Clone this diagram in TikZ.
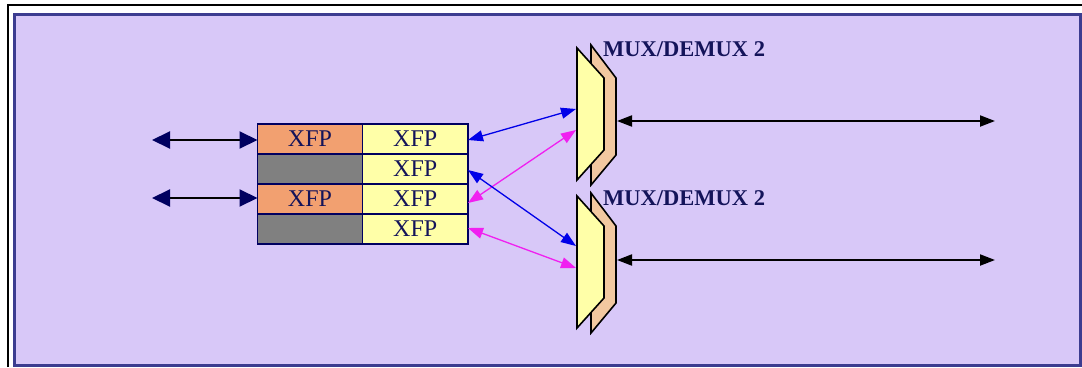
\documentclass[tikz,border=0pt]{standalone}
\usepackage{fontspec}
\setmainfont{Liberation Serif}
\usetikzlibrary{arrows.meta}
\definecolor{bgpurple}{HTML}{D8C8F8}
\definecolor{framecol}{HTML}{3C3C90}
\definecolor{cellorange}{HTML}{F2A070}
\definecolor{cellgray}{HTML}{808080}
\definecolor{cellyellow}{HTML}{FFFFA8}
\definecolor{muxback}{HTML}{F2C8A0}
\definecolor{navy}{HTML}{000060}
\definecolor{textnavy}{HTML}{14145A}
\definecolor{linkblue}{HTML}{0000E8}
\definecolor{linkmag}{HTML}{F020F0}
\tikzset{
  cell/.style={draw=navy, line width=1.6pt, minimum width=105pt, minimum height=30pt, inner sep=0pt, outer sep=0pt,
    font=\fontsize{24}{24}\selectfont, text=textnavy},
  xfpo/.style={cell, fill=cellorange},
  xfpg/.style={cell, fill=cellgray},
  xfpy/.style={cell, fill=cellyellow},
  muxfront/.style={draw=black, line width=1.6pt, fill=cellyellow, line join=miter},
  muxrear/.style={draw=black, line width=1.6pt, fill=muxback, line join=miter},
  muxlabel/.style={anchor=base west, inner sep=0pt, font=\fontsize{22.5}{22.5}\selectfont\bfseries, text=textnavy},
  clientlink/.style={draw=black, line width=2pt, {Triangle[length=18pt,width=17pt,fill=navy,color=navy]}-{Triangle[length=18pt,width=17pt,fill=navy,color=navy]}},
  linelink/.style={draw=black, line width=2pt, {Triangle[length=15pt,width=11pt]}-{Triangle[length=15pt,width=11pt]}},
  bluelink/.style={draw=linkblue, line width=1.3pt, {Triangle[length=15pt,width=11pt]}-{Triangle[length=15pt,width=11pt]}},
  maglink/.style={draw=linkmag, line width=1.3pt, {Triangle[length=15pt,width=11pt]}-{Triangle[length=15pt,width=11pt]}},
}
\begin{document}
\begin{tikzpicture}[x=1pt,y=-1pt]
\useasboundingbox (0,0) rectangle (1082,367);
% background panel
\fill[bgpurple] (14,14) rectangle (1080,365);
\draw[framecol, line width=3pt] (14,14) rectangle (1080,365);
\draw[black, line width=2.5pt] (8,367) -- (8,5) -- (1082,5);

% XFP cells
\node[xfpo] (l1) at (310,139) {XFP};
\node[xfpg] (l2) at (310,169) {};
\node[xfpo] (l3) at (310,199) {XFP};
\node[xfpg] (l4) at (310,229) {};
\node[xfpy, minimum width=105.5pt] (r1) at (415.25,139) {XFP};
\node[xfpy, minimum width=105.5pt] (r2) at (415.25,169) {XFP};
\node[xfpy, minimum width=105.5pt] (r3) at (415.25,199) {XFP};
\node[xfpy, minimum width=105.5pt] (r4) at (415.25,229) {XFP};

% MUX/DEMUX 1
\draw[muxrear] (591,45) -- (616,78) -- (616,155) -- (591,185) -- cycle;
\draw[muxfront] (577,48) -- (604,78) -- (604,150) -- (577,180) -- cycle;
\node[muxlabel] (m1label) at (603,56) {MUX/DEMUX 2};
% MUX/DEMUX 2
\draw[muxrear] (591,193) -- (616,226) -- (616,303) -- (591,333) -- cycle;
\draw[muxfront] (577,196) -- (604,226) -- (604,298) -- (577,328) -- cycle;
\node[muxlabel] (m2label) at (603,205) {MUX/DEMUX 2};

% connection points
\coordinate (c1) at (152,140);
\coordinate (c3) at (152,198);
\coordinate (m1a) at (576,109);
\coordinate (m1b) at (576,130);
\coordinate (m2a) at (576,246);
\coordinate (m2b) at (576,268);
\coordinate (m1out) at (617,121);
\coordinate (m1line) at (995,121);
\coordinate (m2out) at (617,260);
\coordinate (m2line) at (995,260);

% client links
\draw[clientlink] (c1) -- (l1.west |- c1);
\draw[clientlink] (c3) -- (l3.west |- c3);

% internal links
\draw[bluelink] ([yshift=-1pt]r1.east) -- (m1a);
\draw[maglink] ([yshift=-4pt]r3.east) -- (m1b);
\draw[bluelink] ([yshift=-1pt]r2.east) -- (m2a);
\draw[maglink] ([yshift=1pt]r4.east) -- (m2b);

% line side
\draw[linelink] (m1out) -- (m1line);
\draw[linelink] (m2out) -- (m2line);
\end{tikzpicture}
\end{document}
